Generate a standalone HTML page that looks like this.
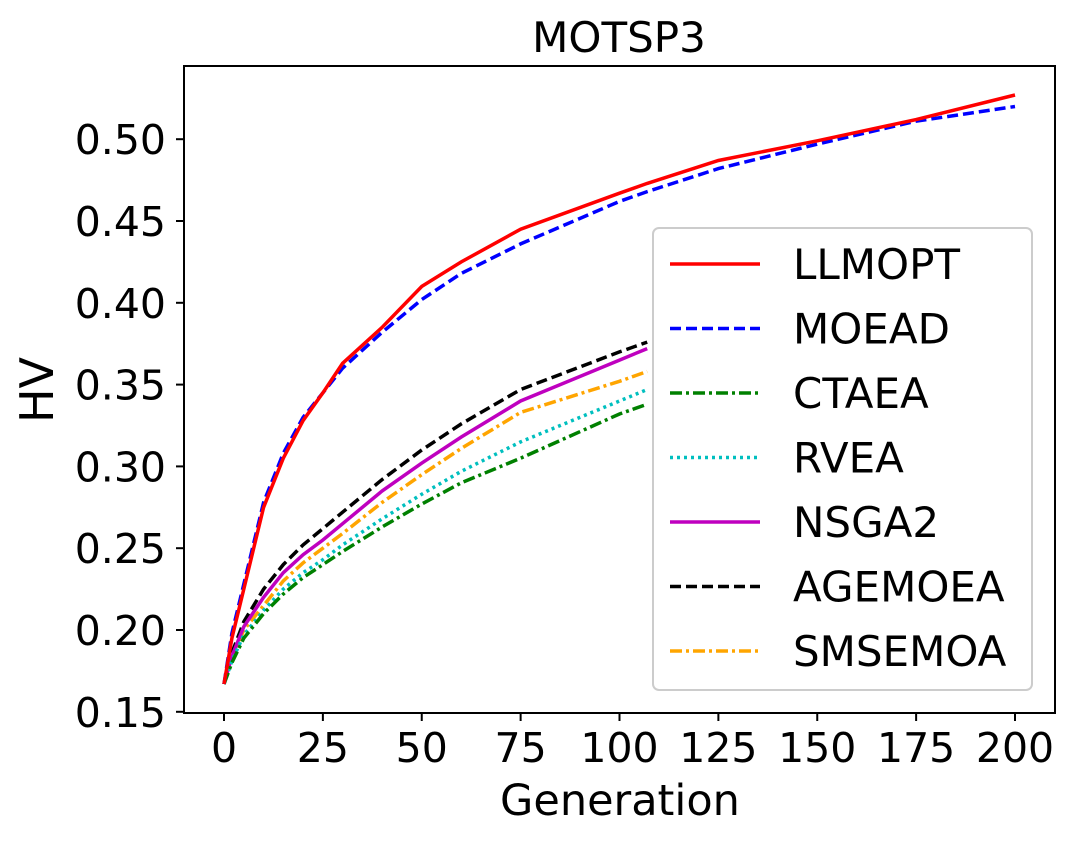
<!DOCTYPE html>
<html><head><meta charset="utf-8"><style>
body{margin:0;background:#fff;}
svg text{font-family:"DejaVu Sans","Liberation Sans",sans-serif;fill:#000;}
</style></head><body>
<svg id="chart" width="1079" height="843">
<rect width="1079" height="843" fill="#fff"/>
<text x="619" y="52" font-size="42" text-anchor="middle">MOTSP3</text>
<g id="marks"></g>
<rect x="184" y="66" width="871" height="647" fill="none" stroke="#000" stroke-width="2"/>
<g id="ticks"></g>
<text x="620" y="815" font-size="43" text-anchor="middle">Generation</text>
<text transform="translate(53,390) rotate(-90)" font-size="46" text-anchor="middle">HV</text>
<g id="legend"></g>
</svg>
<script>
const gens = [0,2,5,10,15,20,25,30,40,50,60,75,100,107,125,150,175,200];
const llmopt = [0.167,0.195,0.225,0.275,0.305,0.328,0.345,0.363,0.385,0.41,0.425,0.445,0.467,0.473,0.487,0.499,0.512,0.527];
const moead = [0.167,0.198,0.228,0.278,0.308,0.330,0.345,0.360,0.382,0.402,0.418,0.436,0.462,0.468,0.482,0.497,0.511,0.520];
const ctaea = [0.167,0.18,0.195,0.21,0.222,0.232,0.240,0.248,0.263,0.277,0.290,0.305,0.332,0.338];
const rvea = [0.167,0.181,0.197,0.212,0.225,0.235,0.243,0.252,0.268,0.283,0.297,0.315,0.340,0.347];
const nsga2 = [0.167,0.184,0.202,0.22,0.235,0.246,0.255,0.265,0.285,0.302,0.318,0.340,0.365,0.372];
const agemoea = [0.167,0.186,0.205,0.225,0.24,0.252,0.262,0.272,0.292,0.31,0.326,0.347,0.370,0.376];
const smsemoa = [0.167,0.183,0.2,0.215,0.23,0.241,0.250,0.259,0.278,0.295,0.311,0.333,0.352,0.358];
const seriesNames = ["LLMOPT","MOEAD","CTAEA","RVEA","NSGA2","AGEMOEA","SMSEMOA"];
const xTicks = [0,25,50,75,100,125,150,175,200];
const yTicks = [0.15,0.20,0.25,0.30,0.35,0.40,0.45,0.50];
const NS="http://www.w3.org/2000/svg";
const xs = g => 224 + g*3.955;
const ys = v => 630 - (v-0.2)*1636;
const styles = [
 {c:"#ff0000",d:""},{c:"#0000ff",d:"11,5"},{c:"#008000",d:"12,4,3,4"},
 {c:"#00bfbf",d:"3,4"},{c:"#bf00bf",d:""},{c:"#000000",d:"11,5"},{c:"#ffa500",d:"12,4,3,4"}];
const data=[llmopt,moead,ctaea,rvea,nsga2,agemoea,smsemoa];
const marks=document.getElementById('marks');
for(let s=data.length-1;s>=0;s--){
 const p=document.createElementNS(NS,'path');
 p.setAttribute('d',data[s].map((v,i)=>(i?'L':'M')+xs(gens[i]).toFixed(1)+','+ys(v).toFixed(1)).join(''));
 p.setAttribute('fill','none');p.setAttribute('stroke',styles[s].c);p.setAttribute('stroke-width','3.5');
 if(styles[s].d)p.setAttribute('stroke-dasharray',styles[s].d);
 
 
 marks.appendChild(p);
}
const ticks=document.getElementById('ticks');
xTicks.forEach(t=>{
 const l=document.createElementNS(NS,'line');
 l.setAttribute('x1',xs(t));l.setAttribute('x2',xs(t));l.setAttribute('y1',713);l.setAttribute('y2',721);l.setAttribute('stroke','#000');l.setAttribute('stroke-width','2');
 
 
 ticks.appendChild(l);
 const tx=document.createElementNS(NS,'text');
 tx.setAttribute('x',xs(t));tx.setAttribute('y',762);tx.setAttribute('font-size','41');tx.setAttribute('text-anchor','middle');tx.textContent=t;
 
 
 ticks.appendChild(tx);
});
yTicks.forEach(t=>{
 const l=document.createElementNS(NS,'line');
 l.setAttribute('x1',176);l.setAttribute('x2',184);l.setAttribute('y1',ys(t));l.setAttribute('y2',ys(t));l.setAttribute('stroke','#000');l.setAttribute('stroke-width','2');
 
 
 ticks.appendChild(l);
 const tx=document.createElementNS(NS,'text');
 tx.setAttribute('x',166);tx.setAttribute('y',ys(t)+15);tx.setAttribute('font-size','41');tx.setAttribute('text-anchor','end');tx.textContent=t.toFixed(2);
 
 
 ticks.appendChild(tx);
});
const lg=document.getElementById('legend');
const box=document.createElementNS(NS,'rect');
box.setAttribute('x',653);box.setAttribute('y',228);box.setAttribute('width',379);box.setAttribute('height',462);box.setAttribute('rx',6);
box.setAttribute('fill','#fff');box.setAttribute('stroke','#ccc');box.setAttribute('stroke-width','2');


lg.appendChild(box);
seriesNames.forEach((n,i)=>{
 const y=264+i*64.5;
 const l=document.createElementNS(NS,'line');
 l.setAttribute('x1',670);l.setAttribute('x2',760);l.setAttribute('y1',y);l.setAttribute('y2',y);
 l.setAttribute('stroke',styles[i].c);l.setAttribute('stroke-width','3.5');
 if(styles[i].d)l.setAttribute('stroke-dasharray',styles[i].d);
 
 
 lg.appendChild(l);
 const t=document.createElementNS(NS,'text');
 t.setAttribute('x',793);t.setAttribute('y',y+15);t.setAttribute('font-size','42');t.textContent=n;
 
 
 lg.appendChild(t);
});
</script>
</body></html>
